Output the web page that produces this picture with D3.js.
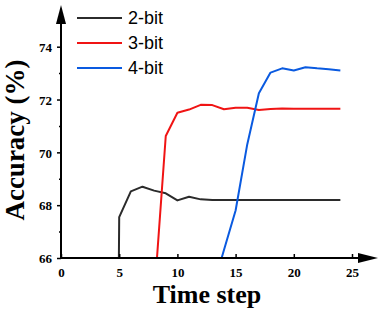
<!DOCTYPE html>
<html>
<head>
<meta charset="utf-8">
<script src="https://cdn.jsdelivr.net/npm/d3@7"></script>
<style>
  body { margin: 0; background: #fff; }
  svg { display: block; }
</style>
</head>
<body>
<svg class="acc-chart"></svg>
<script>
// values (points below 66 are clipped by the plot area)
const steps2 = [4, 5, 6, 7, 8, 9, 10, 11, 12, 13, 14, 15, 16, 17, 18, 19, 20, 21, 22, 23, 24];
const acc2 = [10, 67.55, 68.52, 68.7, 68.55, 68.45, 68.18, 68.32, 68.22, 68.2, 68.2, 68.2, 68.2, 68.2, 68.2, 68.2, 68.2, 68.2, 68.2, 68.2, 68.2];

const steps3 = [8, 9, 10, 11, 12, 13, 14, 15, 16, 17, 18, 19, 20, 21, 22, 23, 24];
const acc3 = [64.5, 70.62, 71.5, 71.62, 71.8, 71.79, 71.63, 71.69, 71.69, 71.6, 71.64, 71.66, 71.65, 71.65, 71.65, 71.65, 71.65];

const steps4 = [13, 14, 15, 16, 17, 18, 19, 20, 21, 22, 23, 24];
const acc4 = [64.8, 66.3, 67.8, 70.3, 72.24, 73.02, 73.18, 73.1, 73.22, 73.18, 73.15, 73.1];

const seriesNames = ['2-bit', '3-bit', '4-bit'];
const xTicks = [0, 5, 10, 15, 20, 25];
const yTicks = [66, 68, 70, 72, 74];
const yMinorTicks = [67, 69, 71, 73];

const colors = ['#2b2b2b', '#f01414', '#0a5ae0'];

const width = 383,
      height = 313;

const x0 = 61, x1 = 352, xEnd = 378;
const y0 = 258, y1 = 46.7, yEnd = 5;

const xScale = d3.scaleLinear().domain([0, 25]).range([x0, x1]);
const yScale = d3.scaleLinear().domain([66, 74]).range([y0, y1]);

const svg = d3.select('.acc-chart')
              .attr('width', width)
              .attr('height', height);

svg.append('clipPath')
   .attr('id', 'plot-clip')
   .append('rect')
   .attr('x', x0)
   .attr('y', yEnd)
   .attr('width', xEnd - x0)
   .attr('height', y0 - yEnd);

const series = [
  { name: seriesNames[0], pts: steps2.map((s, i) => [s, acc2[i]]), color: colors[0] },
  { name: seriesNames[1], pts: steps3.map((s, i) => [s, acc3[i]]), color: colors[1] },
  { name: seriesNames[2], pts: steps4.map((s, i) => [s, acc4[i]]), color: colors[2] }
];

const line = d3.line()
               .x(d => xScale(d[0]))
               .y(d => yScale(d[1]));

svg.append('g')
   .attr('clip-path', 'url(#plot-clip)')
   .selectAll('path')
   .data(series)
   .enter()
   .append('path')
   .attr('d', d => line(d.pts))
   .attr('fill', 'none')
   .attr('stroke', d => d.color)
   .attr('stroke-width', 2)
   .attr('stroke-linejoin', 'round');

// axes
const yAxis = d3.axisLeft(yScale)
                .tickValues(yTicks)
                .tickSize(4)
                .tickPadding(5)
                .tickFormat(d3.format('d'));

const yMinorAxis = d3.axisLeft(yScale)
                     .tickValues(yMinorTicks)
                     .tickSize(2)
                     .tickFormat('');

const xAxis = d3.axisBottom(xScale)
                .tickValues(xTicks)
                .tickSize(-4)
                .tickPadding(10)
                .tickFormat(d3.format('d'));

const gy = svg.append('g')
              .attr('transform', 'translate(' + x0 + ',0)')
              .call(yAxis);
const gyMinor = svg.append('g')
                   .attr('transform', 'translate(' + x0 + ',0)')
                   .call(yMinorAxis);
const gx = svg.append('g')
              .attr('transform', 'translate(0,' + y0 + ')')
              .call(xAxis);

[gy, gyMinor, gx].forEach(g => {
  g.select('.domain').remove();
  g.selectAll('line').attr('stroke', '#000').attr('stroke-width', 1.5);
  g.selectAll('text')
   .attr('fill', '#000')
   .style('font-family', '"Liberation Serif", "Times New Roman", serif')
   .style('font-weight', 'bold')
   .style('font-size', '13px');
});
gy.selectAll('text').attr('dy', '0.36em');
gx.selectAll('text').attr('dy', '0.71em');

// axis lines with arrow heads
svg.append('line')
   .attr('x1', x0).attr('y1', y0)
   .attr('x2', xEnd - 14).attr('y2', y0)
   .attr('stroke', '#000').attr('stroke-width', 2);
svg.append('line')
   .attr('x1', x0).attr('y1', y0 + 1)
   .attr('x2', x0).attr('y2', yEnd + 14)
   .attr('stroke', '#000').attr('stroke-width', 2);

svg.append('path')
   .attr('d', 'M' + xEnd + ',' + y0 + 'L' + (xEnd - 20) + ',' + (y0 - 5) + 'L' + (xEnd - 20) + ',' + (y0 + 5) + 'Z')
   .attr('fill', '#000');
svg.append('path')
   .attr('d', 'M' + x0 + ',' + yEnd + 'L' + (x0 - 5) + ',' + (yEnd + 19) + 'L' + (x0 + 5) + ',' + (yEnd + 19) + 'Z')
   .attr('fill', '#000');

// axis titles
svg.append('text')
   .attr('x', 207)
   .attr('y', 303)
   .attr('text-anchor', 'middle')
   .style('font-family', '"Liberation Serif", "Times New Roman", serif')
   .style('font-weight', 'bold')
   .style('font-size', '26px')
   .text('Time step');

svg.append('text')
   .attr('transform', 'translate(24,140) rotate(-90)')
   .attr('text-anchor', 'middle')
   .style('font-family', '"Liberation Serif", "Times New Roman", serif')
   .style('font-weight', 'bold')
   .style('font-size', '27px')
   .text('Accuracy (%)');

// legend
const legend = svg.selectAll('g.legend')
                  .data(series)
                  .enter()
                  .append('g')
                  .attr('class', 'legend')
                  .attr('transform', (d, i) => 'translate(77,' + (18 + i * 25) + ')');

legend.append('line')
      .attr('x1', 0).attr('x2', 45)
      .attr('y1', 0).attr('y2', 0)
      .attr('stroke', d => d.color)
      .attr('stroke-width', 2);

legend.append('text')
      .attr('x', 51)
      .attr('y', 0)
      .attr('dy', '0.36em')
      .style('font-family', '"Liberation Sans", Arial, sans-serif')
      .style('font-size', '18px')
      .attr('fill', '#000')
      .text(d => d.name);
</script>
</body>
</html>
